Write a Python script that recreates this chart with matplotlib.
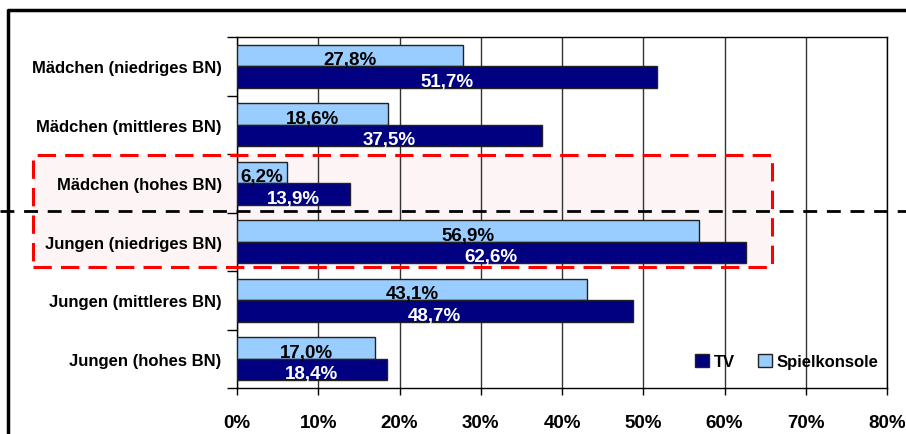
import matplotlib
matplotlib.use("Agg")
import matplotlib.pyplot as plt
from matplotlib.patches import Rectangle
from matplotlib.lines import Line2D

categories = ["Mädchen (niedriges BN)", "Mädchen (mittleres BN)", "Mädchen (hohes BN)",
              "Jungen (niedriges BN)", "Jungen (mittleres BN)", "Jungen (hohes BN)"]
spielkonsole = [27.8, 18.6, 6.2, 56.9, 43.1, 17.0]
tv = [51.7, 37.5, 13.9, 62.6, 48.7, 18.4]
xticks = [0, 10, 20, 30, 40, 50, 60, 70, 80]

plt.rcParams['font.family'] = ['Liberation Sans', 'DejaVu Sans']
plt.rcParams['font.weight'] = 'bold'

W, H = 906, 435
fig = plt.figure(figsize=(W / 100, H / 100), dpi=100)
def fx(x): return x / W
def fy(y): return 1 - y / H

ax = fig.add_axes([fx(237), fy(389), fx(887) - fx(237), fy(38) - fy(389)])
ax.set_facecolor('none')

# pink highlight box (behind)
fig.add_artist(Rectangle((fx(33), fy(268)), fx(772) - fx(33), fy(156) - fy(268),
                         transform=fig.transFigure, facecolor='#FDF5F5', edgecolor='none', zorder=-1))

n = len(categories)
ypos = list(range(n))
h = 0.367
dark = '#000080'
light = '#99CCFF'
ax.barh([y - h / 2 for y in ypos], spielkonsole, height=h, color=light, edgecolor='#222222', linewidth=1, zorder=3)
ax.barh([y + h / 2 for y in ypos], tv, height=h, color=dark, edgecolor='#222222', linewidth=1, zorder=3)

fs = 13.5
for y, s, t in zip(ypos, spielkonsole, tv):
    ax.text(s / 2, y - h / 2 + 0.07, f"{s:.1f}%".replace('.', ','), ha='center', va='center',
            color='black', fontsize=fs, fontweight='bold', zorder=4)
    ax.text(t / 2, y + h / 2 + 0.07, f"{t:.1f}%".replace('.', ','), ha='center', va='center',
            color='white', fontsize=fs, fontweight='bold', zorder=4)

ax.set_xlim(0, 80)
ax.set_ylim(n - 0.5, -0.5)
ax.set_xticks(xticks)
ax.set_xticklabels([f"{v}%" for v in xticks], fontsize=fs, fontweight='bold')
ax.set_yticks(ypos)
ax.set_yticklabels(categories, fontsize=12, fontweight='bold')
ax.set_yticks([y + 0.5 for y in range(-1, n)], minor=True)
ax.tick_params(axis='y', which='major', length=0, pad=11)
ax.tick_params(axis='y', which='minor', length=7, width=1, direction='out')
ax.tick_params(axis='x', which='major', length=5, width=1, direction='out', pad=14)
ax.grid(axis='x', color='#333333', linewidth=1, zorder=1)
ax.set_axisbelow(True)
for sp in ax.spines.values():
    sp.set_color('black')
    sp.set_linewidth(1)

leg = ax.legend(handles=[Rectangle((0, 0), 1, 1, facecolor=dark, edgecolor='#222222'),
                         Rectangle((0, 0), 1, 1, facecolor=light, edgecolor='#222222')],
                labels=['TV', 'Spielkonsole'], loc='lower right', bbox_to_anchor=(1.01, 0.01),
                frameon=False, ncol=2, handlelength=0.8, handleheight=0.8,
                handletextpad=0.3, columnspacing=1.4, prop={'weight': 'bold', 'size': 12})

# red dashed box outline
fig.add_artist(Rectangle((fx(33), fy(268)), fx(772) - fx(33), fy(156) - fy(268),
                         transform=fig.transFigure, facecolor='none', edgecolor='#FF0000',
                         linewidth=2.2, linestyle=(0, (6, 3)), zorder=6))
# black dashed divider
fig.add_artist(Line2D([0, 1], [fy(212), fy(212)], transform=fig.transFigure, color='black',
                      linewidth=2, linestyle=(0, (5, 3.5)), zorder=6))
# outer frame
fig.add_artist(Line2D([fx(8), fx(8), 1.0], [0, fy(11), fy(11)], transform=fig.transFigure,
                      color='black', linewidth=2.5, zorder=6))

fig.savefig("out.png", dpi=100)
